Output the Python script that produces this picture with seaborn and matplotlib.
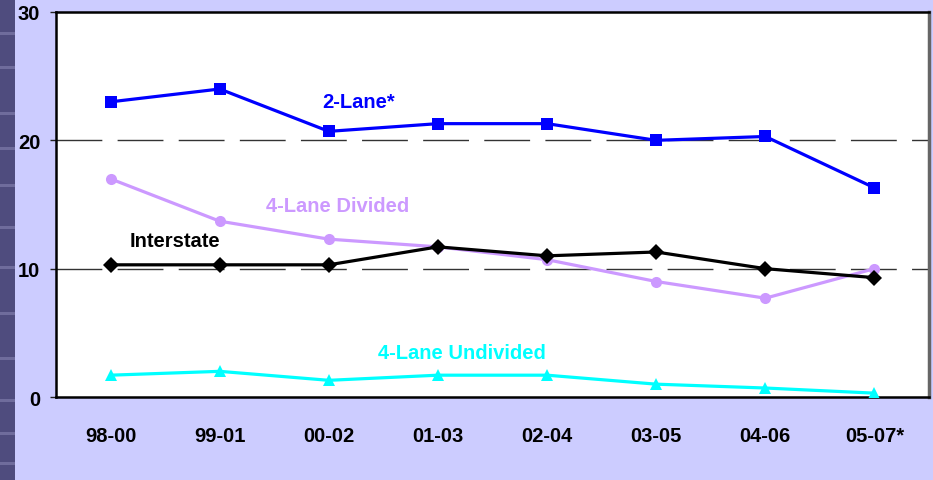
import matplotlib
matplotlib.use("Agg")
import matplotlib.pyplot as plt
from matplotlib.patches import Rectangle
import numpy as np
import pandas as pd
import seaborn as sns

periods = ["98-00", "99-01", "00-02", "01-03", "02-04", "03-05", "04-06", "05-07*"]
two_lane = [23.0, 24.0, 20.7, 21.3, 21.3, 20.0, 20.3, 16.3]
four_lane_divided = [17.0, 13.7, 12.3, 11.7, 10.7, 9.0, 7.7, 10.0]
interstate = [10.3, 10.3, 10.3, 11.7, 11.0, 11.3, 10.0, 9.3]
four_lane_undivided = [1.7, 2.0, 1.3, 1.7, 1.7, 1.0, 0.7, 0.3]
y_ticks = [0, 10, 20, 30]

series_names = ["2-Lane*", "4-Lane Divided", "Interstate", "4-Lane Undivided"]
series_values = [two_lane, four_lane_divided, interstate, four_lane_undivided]
colors = {"2-Lane*": "#0000FF", "4-Lane Divided": "#CC99FF",
          "Interstate": "#000000", "4-Lane Undivided": "#00FFFF"}
markers = {"2-Lane*": "s", "4-Lane Divided": "o",
           "Interstate": "D", "4-Lane Undivided": "^"}

rows = []
for name, vals in zip(series_names, series_values):
    for i, v in enumerate(vals):
        rows.append({"pos": i, "period": periods[i], "value": v, "road": name})
df = pd.DataFrame(rows)

sns.set_theme(style="white")
plt.rcParams["font.family"] = ["Liberation Sans", "DejaVu Sans"]
plt.rcParams["font.weight"] = "bold"
plt.rcParams["text.color"] = "black"
plt.rcParams["xtick.color"] = "black"
plt.rcParams["ytick.color"] = "black"
fs = 14.5

bg = "#CCCCFF"
fig = plt.figure(figsize=(9.33, 4.81), dpi=100, facecolor=bg)

# decorative textured strip on the left edge
W, H = 933, 481
fig.patches.append(Rectangle((0, 0), 15 / W, 1, transform=fig.transFigure,
                             facecolor="#4F4C7E", edgecolor="none", zorder=0))
for yb in [33, 67, 113, 148, 185, 227, 267, 313, 358, 400, 433, 463]:
    fig.patches.append(Rectangle((0, 1 - (yb + 3) / H), 15 / W, 3 / H,
                                 transform=fig.transFigure,
                                 facecolor="#6F6C9C", edgecolor="none", zorder=1))

ax = fig.add_axes([56 / W, 1 - 398 / H, (929 - 56) / W, (398 - 13) / H])
ax.set_facecolor("white")

# dashed reference lines
for yv in y_ticks[1:3]:
    ax.axhline(yv, color="#333333", lw=1.0, dashes=(33, 11), zorder=1)

sns.lineplot(data=df, x="pos", y="value", hue="road", style="road",
             palette=colors, markers=markers, dashes=False,
             linewidth=2.3, markersize=8, markeredgewidth=0,
             legend=False, ax=ax, zorder=3)

ax.set_xlim(-0.5, len(periods) - 0.5)
ax.set_ylim(0, 30)
ax.set_yticks(y_ticks)
ax.set_yticklabels([str(t) for t in y_ticks], fontsize=fs, fontweight="bold")
ax.set_xticks(range(len(periods)))
ax.set_xticklabels(periods, fontsize=fs, fontweight="bold")
ax.set_xticks(np.arange(-0.5, len(periods)), minor=True)
ax.tick_params(axis="x", which="major", length=0, pad=21)
ax.tick_params(axis="x", which="minor", length=4.3, width=1.0, color="#222222",
               direction="out")
ax.tick_params(axis="y", length=4.3, width=1.0, color="#222222", direction="out",
               pad=7, left=True)
ax.set_xlabel("")
ax.set_ylabel("")

for side in ["left", "bottom", "top"]:
    ax.spines[side].set_color("black")
    ax.spines[side].set_linewidth(1.8)
ax.spines["right"].set_color("#666666")
ax.spines["right"].set_linewidth(2.5)

# series labels
label_pos = {"2-Lane*": (2.27, 23.0), "4-Lane Divided": (2.08, 14.96),
             "Interstate": (0.59, 12.16), "4-Lane Undivided": (3.22, 3.43)}
for name, (lx, ly) in label_pos.items():
    ax.text(lx, ly, name, color=colors[name], fontsize=fs, fontweight="bold",
            ha="center", va="center", zorder=4)

fig.savefig("out.png", dpi=100, facecolor=bg)
